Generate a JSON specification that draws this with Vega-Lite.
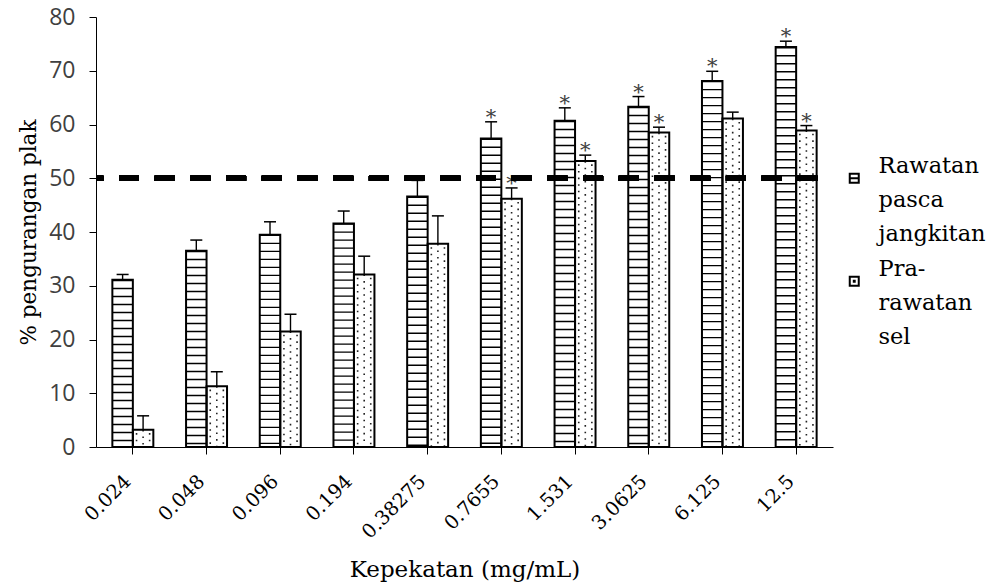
{
  "$schema": "https://vega.github.io/schema/vega-lite/v6.json",
  "width": 737,
  "height": 430,
  "autosize": {"type": "none"},
  "padding": {"left": 96, "top": 17, "right": 156, "bottom": 140},
  "background": "white",
  "config": {
    "view": {"stroke": null},
    "axis": {"grid": false, "domainColor": "black", "tickColor": "black", "domainWidth": 1, "tickWidth": 1},
    "axisX": {"labelAngle": -45, "labelAlign": "right", "labelBaseline": "middle", "labelFont": "DejaVu Serif", "labelFontSize": 19.5, "labelColor": "black", "tickSize": 7, "labelPadding": 24, "labelOffset": -5, "titleFont": "DejaVu Serif", "titleFontSize": 23, "titleFontWeight": "normal", "titleColor": "black", "titlePadding": 17},
    "axisY": {"labelFont": "Open Sans", "labelFontSize": 23, "labelColor": "#404040", "tickSize": 7, "labelPadding": 14, "titleFont": "DejaVu Serif", "titleFontSize": 21.5, "titleFontWeight": "normal", "titleColor": "black", "titlePadding": 8, "values": [0, 10, 20, 30, 40, 50, 60, 70, 80]}
  },
  "data": {
    "values": [
      {"conc": "0.024", "series": "Rawatan pasca jangkitan", "value": 31.1, "upper": 32.1, "star": ""},
      {"conc": "0.024", "series": "Pra-rawatan sel", "value": 3.2, "upper": 5.8, "star": ""},
      {"conc": "0.048", "series": "Rawatan pasca jangkitan", "value": 36.5, "upper": 38.5, "star": ""},
      {"conc": "0.048", "series": "Pra-rawatan sel", "value": 11.3, "upper": 14.0, "star": ""},
      {"conc": "0.096", "series": "Rawatan pasca jangkitan", "value": 39.5, "upper": 41.9, "star": ""},
      {"conc": "0.096", "series": "Pra-rawatan sel", "value": 21.5, "upper": 24.7, "star": ""},
      {"conc": "0.194", "series": "Rawatan pasca jangkitan", "value": 41.6, "upper": 43.9, "star": ""},
      {"conc": "0.194", "series": "Pra-rawatan sel", "value": 32.1, "upper": 35.5, "star": ""},
      {"conc": "0.38275", "series": "Rawatan pasca jangkitan", "value": 46.6, "upper": 49.6, "star": ""},
      {"conc": "0.38275", "series": "Pra-rawatan sel", "value": 37.8, "upper": 43.0, "star": ""},
      {"conc": "0.7655", "series": "Rawatan pasca jangkitan", "value": 57.4, "upper": 60.5, "star": "*"},
      {"conc": "0.7655", "series": "Pra-rawatan sel", "value": 46.2, "upper": 48.2, "star": "*"},
      {"conc": "1.531", "series": "Rawatan pasca jangkitan", "value": 60.7, "upper": 63.1, "star": "*"},
      {"conc": "1.531", "series": "Pra-rawatan sel", "value": 53.2, "upper": 54.3, "star": "*"},
      {"conc": "3.0625", "series": "Rawatan pasca jangkitan", "value": 63.3, "upper": 65.2, "star": "*"},
      {"conc": "3.0625", "series": "Pra-rawatan sel", "value": 58.5, "upper": 59.5, "star": "*"},
      {"conc": "6.125", "series": "Rawatan pasca jangkitan", "value": 68.1, "upper": 69.9, "star": "*"},
      {"conc": "6.125", "series": "Pra-rawatan sel", "value": 61.1, "upper": 62.3, "star": ""},
      {"conc": "12.5", "series": "Rawatan pasca jangkitan", "value": 74.4, "upper": 75.5, "star": "*"},
      {"conc": "12.5", "series": "Pra-rawatan sel", "value": 58.9, "upper": 59.8, "star": "*"}
    ]
  },
  "layer": [
    {
      "mark": {"type": "bar"},
      "encoding": {
        "x": {"field": "conc", "type": "nominal", "sort": null, "title": "Kepekatan (mg/mL)", "scale": {"paddingInner": 0.444, "paddingOuter": 0.222}},
        "xOffset": {"field": "series", "type": "nominal", "sort": null, "scale": {"domain": ["Rawatan pasca jangkitan", "Pra-rawatan sel"], "paddingInner": 0, "paddingOuter": 0}},
        "y": {"field": "value", "type": "quantitative", "title": "% pengurangan plak", "scale": {"domain": [0, 80], "nice": false}},
        "fill": {
          "field": "series", "type": "nominal",
          "scale": {"domain": ["Rawatan pasca jangkitan", "Pra-rawatan sel"], "range": ["white", "white"]},
          "legend": {
            "orient": "none", "legendX": 747, "legendY": 150, "direction": "vertical", "title": null, "padding": 0,
            "symbolSize": 81, "symbolStrokeColor": "black", "symbolStrokeWidth": 2, "symbolFillColor": "white",
            "labelFont": "DejaVu Serif", "labelFontSize": 22.5, "labelColor": "black", "labelLimit": 0, "labelOffset": 13, "labelBaseline": "alphabetic",
            "rowPadding": 12,
            "labelExpr": "datum.value === 'Rawatan pasca jangkitan' ? ['Rawatan', 'pasca', 'jangkitan'] : ['Pra-', 'rawatan', 'sel']",
            "encode": {
              "symbols": {"update": {"shape": {"signal": "datum.value === 'Rawatan pasca jangkitan' ? 'M-1,-1H1V1H-1ZM-1,0H1' : 'M-1,-1H1V1H-1ZM-0.1,-0.1H0.1V0.1H-0.1Z'"}}},
              "labels": {"update": {"dy": {"value": -5}, "lineHeight": {"value": 34}, "fill": {"value": "black"}}}
            }
          }
        }
      }
    },
    {
      "transform": [{"filter": "datum.series === 'Rawatan pasca jangkitan'"}],
      "mark": {"type": "rule", "stroke": "black", "strokeWidth": 20, "strokeDash": [1.4, 6.6], "strokeCap": "butt"},
      "encoding": {
        "x": {"field": "conc", "type": "nominal", "sort": null, "title": "Kepekatan (mg/mL)", "bandPosition": 0.25},
        "y": {"field": "value", "type": "quantitative", "title": "% pengurangan plak"},
        "y2": {"datum": 0}
      }
    },
    {
      "transform": [{"filter": "datum.series === 'Pra-rawatan sel'"}],
      "mark": {"type": "rule", "stroke": "#222", "strokeWidth": 1.6, "strokeDash": [1.6, 5], "strokeCap": "butt"},
      "encoding": {
        "x": {"field": "conc", "type": "nominal", "sort": null, "title": "Kepekatan (mg/mL)", "bandPosition": 0.75},
        "y": {"field": "value", "type": "quantitative", "title": "% pengurangan plak"},
        "y2": {"datum": 0}
      }
    },
    {
      "transform": [{"filter": "datum.series === 'Pra-rawatan sel'"}],
      "mark": {"type": "rule", "stroke": "#222", "strokeWidth": 1.6, "strokeDash": [1.6, 5], "strokeDashOffset": 3.3, "strokeCap": "butt"},
      "encoding": {
        "x": {"field": "conc", "type": "nominal", "sort": null, "title": "Kepekatan (mg/mL)", "bandPosition": 0.59},
        "y": {"field": "value", "type": "quantitative", "title": "% pengurangan plak"},
        "y2": {"datum": 0}
      }
    },
    {
      "transform": [{"filter": "datum.series === 'Pra-rawatan sel'"}],
      "mark": {"type": "rule", "stroke": "#222", "strokeWidth": 1.6, "strokeDash": [1.6, 5], "strokeDashOffset": 3.3, "strokeCap": "butt"},
      "encoding": {
        "x": {"field": "conc", "type": "nominal", "sort": null, "title": "Kepekatan (mg/mL)", "bandPosition": 0.91},
        "y": {"field": "value", "type": "quantitative", "title": "% pengurangan plak"},
        "y2": {"datum": 0}
      }
    },
    {
      "mark": {"type": "bar", "fill": "transparent", "stroke": "black", "strokeWidth": 2},
      "encoding": {
        "x": {"field": "conc", "type": "nominal", "sort": null, "title": "Kepekatan (mg/mL)"},
        "xOffset": {"field": "series", "type": "nominal", "sort": null},
        "y": {"field": "value", "type": "quantitative", "title": "% pengurangan plak"}
      }
    },
    {
      "mark": {"type": "rule", "stroke": "black", "strokeWidth": 1.4},
      "encoding": {
        "x": {"field": "conc", "type": "nominal", "sort": null, "title": "Kepekatan (mg/mL)"},
        "xOffset": {"field": "series", "type": "nominal", "sort": null},
        "y": {"field": "value", "type": "quantitative", "title": "% pengurangan plak"},
        "y2": {"field": "upper"}
      }
    },
    {
      "mark": {"type": "tick", "orient": "horizontal", "size": 12, "thickness": 1.5, "color": "black", "opacity": 1},
      "encoding": {
        "x": {"field": "conc", "type": "nominal", "sort": null, "title": "Kepekatan (mg/mL)"},
        "xOffset": {"field": "series", "type": "nominal", "sort": null},
        "y": {"field": "upper", "type": "quantitative", "title": "% pengurangan plak"}
      }
    },
    {
      "transform": [{"filter": "datum.star !== ''"}],
      "mark": {"type": "text", "font": "DejaVu Serif", "fontSize": 21, "baseline": "alphabetic", "dy": 2, "color": "#404040"},
      "encoding": {
        "x": {"field": "conc", "type": "nominal", "sort": null, "title": "Kepekatan (mg/mL)"},
        "xOffset": {"field": "series", "type": "nominal", "sort": null},
        "y": {"field": "upper", "type": "quantitative", "title": "% pengurangan plak"},
        "text": {"field": "star"}
      }
    },
    {
      "mark": {"type": "rule", "stroke": "black", "strokeWidth": 5, "strokeDash": [20, 15.7], "strokeDashOffset": 20},
      "encoding": {"y": {"datum": 50, "type": "quantitative"}}
    }
  ]
}
